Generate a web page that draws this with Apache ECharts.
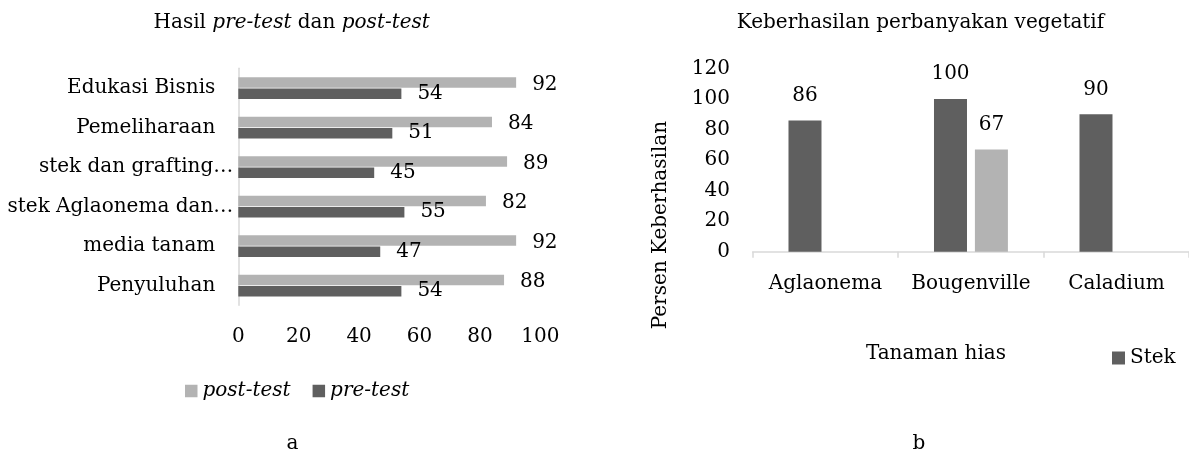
<!DOCTYPE html>
<html>
<head>
<meta charset="utf-8">
<script src="https://cdn.jsdelivr.net/npm/echarts@6/dist/echarts.min.js"></script>
<style>
html,body{margin:0;padding:0;background:#fff;}
#chart{width:1189px;height:457px;}
</style>
</head>
<body>
<div id="chart"></div>
<script>
// ---- Data: chart a ----
const trainingCategories = ['Penyuluhan', 'media tanam', 'stek Aglaonema dan…', 'stek dan grafting…', 'Pemeliharaan', 'Edukasi Bisnis'];
const postTest = [88, 92, 82, 89, 84, 92];
const preTest = [54, 47, 55, 45, 51, 54];
const scoreTicks = { min: 0, max: 100, interval: 20 };

// ---- Data: chart b ----
const plantCategories = ['Aglaonema', 'Bougenville', 'Caladium'];
const stekValues = [86, 100, 90];
const secondMethodValues = [null, 67, null];
const percentTicks = { min: 0, max: 120, interval: 20 };

const FONT = 'DejaVu Serif';
const TXT = '#000000';
const DARK = '#5f5f5f';
const LIGHT = '#b3b3b3';
const AXIS = '#d9d9d9';
const base = { fontFamily: FONT, fontSize: 20, color: TXT, fontWeight: 'normal' };

const chart = echarts.init(document.getElementById('chart'));
chart.setOption({
  animation: false,
  backgroundColor: '#ffffff',
  textStyle: { fontFamily: FONT },
  title: [
    {
      text: '{n|Hasil }{i|pre-test}{n| dan }{i|post-test}',
      left: 291.7, top: 13, textAlign: 'center', padding: 0,
      textStyle: Object.assign({
        rich: { n: Object.assign({}, base), i: Object.assign({ fontStyle: 'italic' }, base) }
      }, base)
    },
    {
      text: 'Keberhasilan perbanyakan vegetatif',
      left: 920.5, top: 13, textAlign: 'center', padding: 0,
      textStyle: Object.assign({}, base)
    },
    { text: 'a', left: 292.5, top: 434, textAlign: 'center', padding: 0, textStyle: Object.assign({}, base) },
    { text: 'b', left: 919, top: 434, textAlign: 'center', padding: 0, textStyle: Object.assign({}, base) }
  ],
  legend: [
    {
      data: ['post-test', 'pre-test'], padding: 0,
      left: 185, top: 381, icon: 'rect', itemWidth: 12.5, itemHeight: 12.5, itemGap: 22,
      textStyle: Object.assign({ fontStyle: 'italic' }, base)
    },
    {
      data: ['Stek'], padding: 0,
      left: 1112, top: 348, icon: 'rect', itemWidth: 13, itemHeight: 13,
      textStyle: Object.assign({}, base)
    }
  ],
  grid: [
    { left: 238.3, top: 68.3, width: 302, height: 237, outerBoundsMode: 'none' },
    { left: 752.7, top: 68.5, width: 436.5, height: 183.2, outerBoundsMode: 'none' }
  ],
  xAxis: [
    {
      gridIndex: 0, type: 'value', min: scoreTicks.min, max: scoreTicks.max, interval: scoreTicks.interval,
      axisLine: { show: false }, axisTick: { show: false }, splitLine: { show: false },
      axisLabel: Object.assign({ margin: 21 }, base)
    },
    {
      gridIndex: 1, type: 'category', data: plantCategories,
      axisLine: { lineStyle: { color: AXIS, width: 1.5 } },
      axisTick: { show: true, length: 6, lineStyle: { color: AXIS, width: 1.5 } },
      axisLabel: Object.assign({ margin: 22, interval: 0, hideOverlap: false }, base),
      name: 'Tanaman hias', nameLocation: 'middle', nameGap: 92,
      nameTextStyle: Object.assign({ padding: [0, 70, 0, 0] }, base)
    }
  ],
  yAxis: [
    {
      gridIndex: 0, type: 'category', data: trainingCategories,
      axisLine: { lineStyle: { color: AXIS, width: 1.5 } },
      axisTick: { show: false }, splitLine: { show: false },
      axisLabel: {
        margin: 5, interval: 0,
        formatter: function (v) { return v.endsWith('…') ? '{t|' + v + '}' : '{f|' + v + '}'; },
        rich: { t: Object.assign({}, base), f: Object.assign({ padding: [0, 18, 0, 0] }, base) }
      }
    },
    {
      gridIndex: 1, type: 'value', min: percentTicks.min, max: percentTicks.max, interval: percentTicks.interval,
      axisLine: { show: false }, axisTick: { show: false }, splitLine: { show: false },
      axisLabel: Object.assign({ margin: 22.7 }, base),
      name: 'Persen Keberhasilan', nameLocation: 'middle', nameRotate: 90, nameGap: 82,
      nameTextStyle: Object.assign({ padding: [0, 130, 0, 0] }, base)
    }
  ],
  series: [
    {
      name: 'post-test', type: 'bar', xAxisIndex: 0, yAxisIndex: 0, data: postTest,
      barWidth: 10.5, barGap: '8%', itemStyle: { color: LIGHT },
      label: Object.assign({ show: true, position: 'right', distance: 16, offset: [0, 2] }, base)
    },
    {
      name: 'pre-test', type: 'bar', xAxisIndex: 0, yAxisIndex: 0, data: preTest,
      barWidth: 10.5, barGap: '8%', itemStyle: { color: DARK },
      label: Object.assign({ show: true, position: 'right', distance: 16 }, base)
    },
    {
      name: 'Stek', type: 'bar', xAxisIndex: 1, yAxisIndex: 1, data: stekValues,
      barWidth: 33, barGap: '24%', itemStyle: { color: DARK },
      label: Object.assign({ show: true, position: 'top', distance: 15 }, base)
    },
    {
      name: 'Grafting', type: 'bar', xAxisIndex: 1, yAxisIndex: 1, data: secondMethodValues,
      barWidth: 33, barGap: '24%', itemStyle: { color: LIGHT },
      label: Object.assign({ show: true, position: 'top', distance: 15 }, base)
    }
  ]
});
</script>
</body>
</html>
